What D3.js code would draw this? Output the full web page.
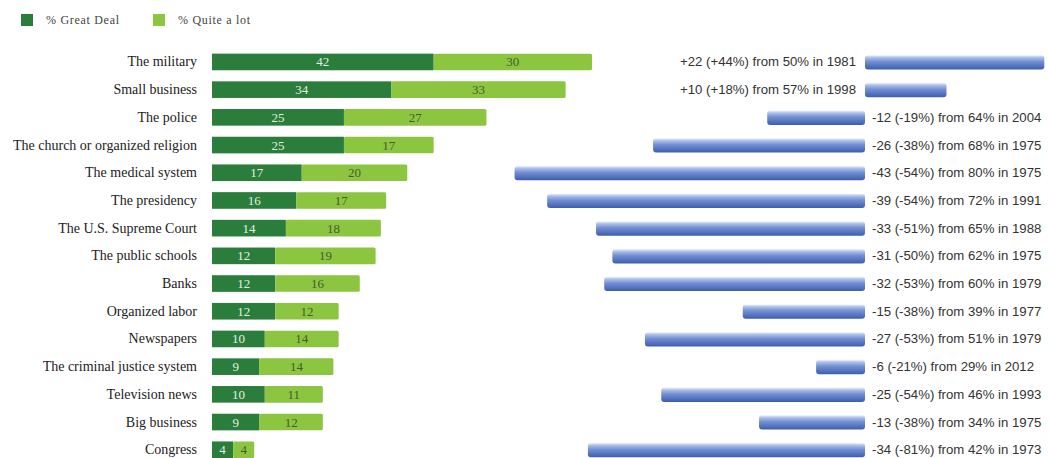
<!DOCTYPE html>
<html><head><meta charset="utf-8">
<script src="https://cdn.jsdelivr.net/npm/d3@7"></script>
<style>body{margin:0;background:#fff}svg{display:block}</style>
</head><body>
<svg id="c" width="1049" height="458"></svg>
<script>
const categories = ["The military","Small business","The police","The church or organized religion","The medical system","The presidency","The U.S. Supreme Court","The public schools","Banks","Organized labor","Newspapers","The criminal justice system","Television news","Big business","Congress"];
const greatDeal = [42,34,25,25,17,16,14,12,12,12,10,9,10,9,4];
const quiteALot = [30,33,27,17,20,17,18,19,16,12,14,14,11,12,4];
const change = [22,10,-12,-26,-43,-39,-33,-31,-32,-15,-27,-6,-25,-13,-34];
const changeLabels = ["+22 (+44%) from 50% in 1981","+10 (+18%) from 57% in 1998","-12 (-19%) from 64% in 2004","-26 (-38%) from 68% in 1975","-43 (-54%) from 80% in 1975","-39 (-54%) from 72% in 1991","-33 (-51%) from 65% in 1988","-31 (-50%) from 62% in 1975","-32 (-53%) from 60% in 1979","-15 (-38%) from 39% in 1977","-27 (-53%) from 51% in 1979","-6 (-21%) from 29% in 2012","-25 (-54%) from 46% in 1993","-13 (-38%) from 34% in 1975","-34 (-81%) from 42% in 1973"];
const seriesNames = ["% Great Deal","% Quite a lot"];

const svg = d3.select("#c");
const dark = "#2b7d3b", light = "#8cc641";
const y = d3.scaleBand().domain(categories).range([48.1, 463.6]).paddingInner(0.4).paddingOuter(0.2);
const x = d3.scaleLinear().domain([0, 72]).range([212, 592]);
const xc = d3.scaleLinear().domain([-43, 22]).range([865 - 43*8.15, 865 + 22*8.15]);

const defs = svg.append("defs");
const g = defs.append("linearGradient").attr("id","blue").attr("x1",0).attr("y1",0).attr("x2",0).attr("y2",1);
[[0,"#eef2fb"],[0.18,"#a9bde8"],[0.45,"#7390d4"],[1,"#3d5dac"]].forEach(s=>g.append("stop").attr("offset",s[0]).attr("stop-color",s[1]));

// legend
const leg = svg.append("g");
[[21,dark,46],[153,light,178]].forEach((l,i)=>{
  leg.append("rect").attr("x",l[0]).attr("y",14).attr("width",12).attr("height",12).attr("fill",l[1]);
  leg.append("text").attr("x",l[2]).attr("y",24).text(seriesNames[i])
    .attr("font-family","Liberation Serif, serif").attr("font-size",12).attr("letter-spacing",0.7).attr("fill","#444");
});

const rows = svg.append("g").selectAll("g").data(categories).join("g");
const bh = y.bandwidth();
const serif = "Liberation Serif, serif";

// category labels
rows.append("text").attr("x",197).attr("y",(d)=>y(d)+bh/2+4.5).attr("text-anchor","end")
  .attr("font-family",serif).attr("font-size",14).attr("fill","#222").text(d=>d);

// segments
rows.append("rect").attr("x",x(0)).attr("y",d=>y(d)).attr("height",bh)
  .attr("width",(d,i)=>x(greatDeal[i])-x(0)).attr("fill",dark);
rows.append("rect").attr("x",(d,i)=>x(greatDeal[i])).attr("y",d=>y(d)).attr("height",bh)
  .attr("width",(d,i)=>x(greatDeal[i]+quiteALot[i])-x(greatDeal[i])).attr("fill",light).attr("rx",1.5);
rows.append("text").attr("x",(d,i)=>(x(0)+x(greatDeal[i]))/2).attr("y",d=>y(d)+bh/2+4.5)
  .attr("text-anchor","middle").attr("font-family",serif).attr("font-size",13)
  .attr("fill","#e3eee3").text((d,i)=>greatDeal[i]);
rows.append("text").attr("x",(d,i)=>(x(greatDeal[i])+x(greatDeal[i]+quiteALot[i]))/2).attr("y",d=>y(d)+bh/2+4.5)
  .attr("text-anchor","middle").attr("font-family",serif).attr("font-size",13)
  .attr("fill","#4a5a30").text((d,i)=>quiteALot[i]);

// change bars
const cb = 1.5;
rows.append("rect").attr("x",(d,i)=>Math.min(xc(0),xc(change[i]))).attr("y",d=>y(d)+cb)
  .attr("height",bh-cb*1.5).attr("width",(d,i)=>Math.abs(xc(change[i])-xc(0)))
  .attr("rx",3).attr("fill","url(#blue)");
rows.append("text").attr("x",(d,i)=>change[i]>=0 ? xc(0)-9 : xc(0)+7).attr("y",d=>y(d)+bh/2+4.5)
  .attr("text-anchor",(d,i)=>change[i]>=0?"end":"start")
  .attr("font-family","Liberation Sans, Arial, sans-serif").attr("font-size",13.2)
  .attr("fill","#333").text((d,i)=>changeLabels[i]);
</script>
</body></html>
